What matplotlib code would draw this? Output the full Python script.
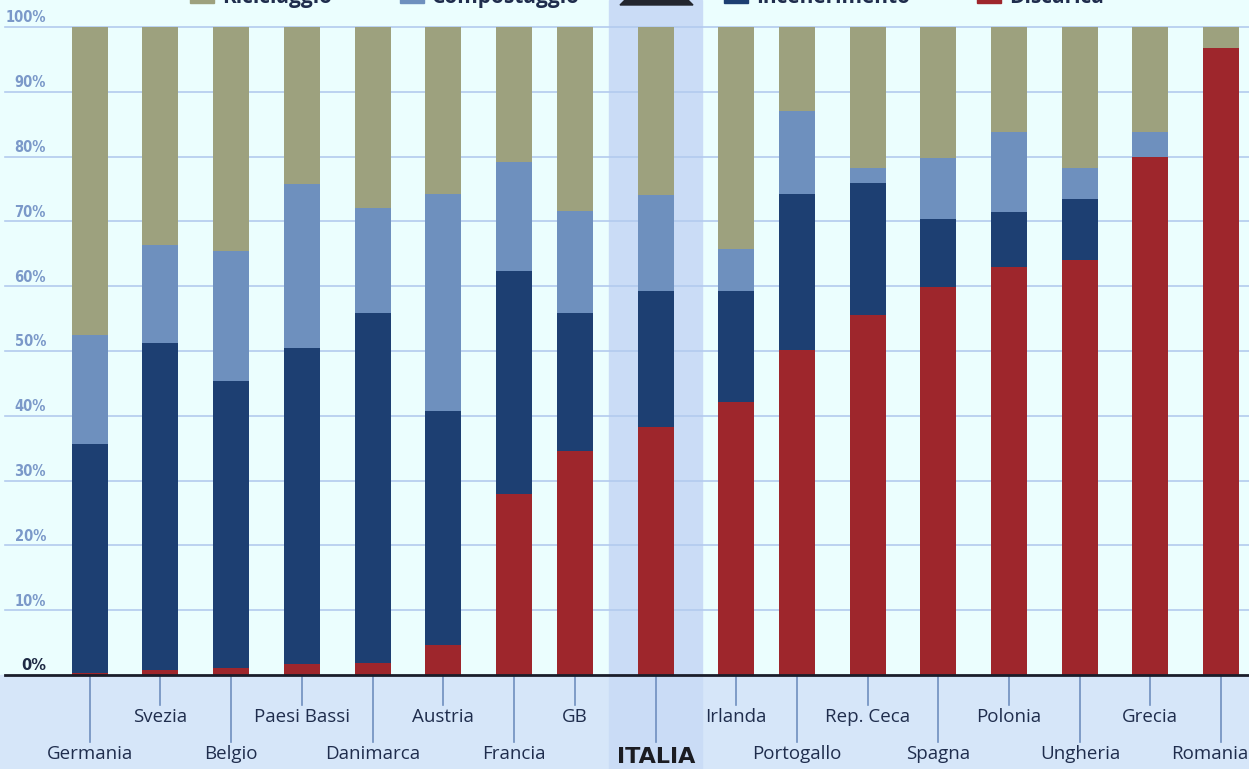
import numpy as np
import matplotlib.pyplot as plt
from matplotlib.patches import Rectangle, Polygon

# Data (% of municipal waste by treatment)
countries = ["Germania", "Svezia", "Belgio", "Paesi Bassi", "Danimarca", "Austria",
             "Francia", "GB", "ITALIA", "Irlanda", "Portogallo", "Rep. Ceca",
             "Spagna", "Polonia", "Ungheria", "Grecia", "Romania"]
discarica = np.array([0.3, 0.8, 1.1, 1.7, 1.8, 4.6, 27.9, 34.5, 38.2, 42.2,
                      50.1, 55.6, 59.8, 63.0, 64.1, 80.0, 96.8])
incenerimento = np.array([35.3, 50.5, 44.2, 48.8, 54.0, 36.2, 34.5, 21.3, 21.1, 17.1,
                          24.2, 20.4, 10.5, 8.5, 9.4, 0.0, 0.0])
compostaggio = np.array([16.9, 15.0, 20.2, 25.2, 16.2, 33.5, 16.8, 15.8, 14.8, 6.5,
                         12.8, 2.3, 9.5, 12.3, 4.8, 3.8, 0.0])
riciclaggio = 100 - discarica - incenerimento - compostaggio

series = ["Riciclaggio", "Compostaggio", "Incenerimento", "Discarica"]
colors = {"Riciclaggio": "#9da17e", "Compostaggio": "#6e90be",
          "Incenerimento": "#1d3f72", "Discarica": "#9e262c"}

# layout (pixel-like x units)
xpos = np.array([90, 160, 231, 302, 373, 443, 514, 575, 656, 736, 797, 868,
                 938, 1009, 1080, 1150, 1221])
top_row = [False, True, False, True, False, True, False, True, False,
           True, False, True, False, True, False, True, False]

W, H = 1249, 769
px = 6.48  # pixels per percent
y0 = 675
fig = plt.figure(figsize=(W / 100, H / 100), dpi=100)
fig.patch.set_facecolor("#ebfefe")
ax = fig.add_axes([0, 0, 1, 1])
ax.set_xlim(0, W)
ax.set_ylim((y0 - H) / px, y0 / px)
ax.axis("off")

def v(ypix):
    return (y0 - ypix) / px

# lower label band and Italia highlight
ax.add_patch(Rectangle((0, v(H)), W, v(y0) - v(H), color="#d6e6f9", zorder=0))
ax.add_patch(Rectangle((609, v(H)), 93, v(0) - v(H), color="#cadcf6", zorder=0.5))

# grid
for g in range(10, 101, 10):
    ax.plot([5, W], [g, g], color="#b3cbee", lw=1.2, zorder=1)
    ax.text(46, g + 0.25, f"{g}%", ha="right", va="bottom", fontsize=10.5,
            color="#7b99c9", fontweight="bold", family="DejaVu Sans",
            stretch="condensed")
ax.text(46, 0.25, "0%", ha="right", va="bottom", fontsize=10.5, color="#1f2b45",
        fontweight="bold")

# stacked bars
bottom = np.zeros(len(countries))
for name, vals in zip(["Discarica", "Incenerimento", "Compostaggio", "Riciclaggio"],
                      [discarica, incenerimento, compostaggio, riciclaggio]):
    ax.bar(xpos, vals, bottom=bottom, width=36, color=colors[name], zorder=2)
    bottom += vals

ax.plot([5, W], [0, 0], color="#1a1d2a", lw=2, zorder=3)

# country labels with leader lines
for x, name, top in zip(xpos, countries, top_row):
    yend = v(705) if top else v(742)
    ax.plot([x, x], [0, yend], color="#6f8fbf", lw=1.2, zorder=1)
    ty = v(717) if top else v(754)
    if name == "ITALIA":
        ax.text(x, v(757), name, ha="center", va="center", fontsize=16,
                fontweight="heavy", color="#1b1c22", family="DejaVu Sans")
    elif name == "Romania":
        ax.text(W - 1, ty, name, ha="right", va="center", fontsize=13.5,
                color="#1f2d4d", family="Open Sans")
    else:
        ax.text(x, ty, name, ha="center", va="center", fontsize=13.5,
                color="#1f2d4d", family="Open Sans")

# legend (cut at the top edge)
leg_x = [190, 400, 724, 977]
for lx, name in zip(leg_x, series):
    ax.add_patch(Rectangle((lx, v(3)), 24, 3, color=colors[name], zorder=3,
                           clip_on=False))
    ax.text(lx + 32, v(3), name, ha="left", va="baseline", fontsize=15,
            fontweight="bold", color="#1f2d4d", family="Open Sans")
ax.add_patch(Polygon([[620, v(5)], [693, v(5)], [683, v(-5)], [630, v(-5)]],
                     color="#23262e", zorder=3, clip_on=False))

fig.savefig("out.png", dpi=100, facecolor=fig.get_facecolor())
